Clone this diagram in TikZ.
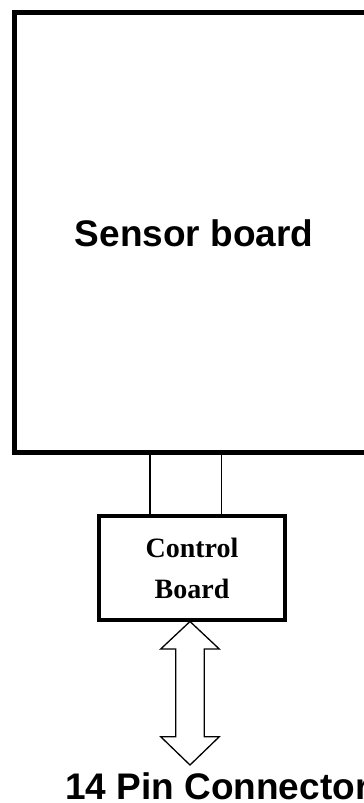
\documentclass[tikz,border=0pt]{standalone}
\usepackage{fontspec}
\setmainfont{Liberation Serif}
\newfontfamily\arialfont{Liberation Sans}
\begin{document}
\begin{tikzpicture}[x=1pt,y=-1pt,
  board/.style={draw=black,rectangle,inner sep=0pt},
  wire/.style={draw=black,line width=1.2pt},
  bigarrow/.style={draw=black,line width=1.3pt,line join=miter},
  sanslabel/.style={font=\arialfont\bfseries\fontsize{37}{44}\selectfont,inner sep=0pt},
  seriflabel/.style={font=\bfseries\fontsize{28}{41}\selectfont,align=center,inner sep=0pt}]
\useasboundingbox (0,0) rectangle (364,803);
\fill[white] (0,0) rectangle (364,803);
% sensor board (right edge lies outside the page)
\node[board,line width=5pt,minimum width=357.5pt,minimum height=440pt] (sensor) at (193.25,232.5) {};
\node[sanslabel,anchor=base] (sensortext) at (194,246.7) {Sensor board};
% control board
\node[board,line width=4.5pt,minimum width=186pt,minimum height=104pt,seriflabel] (control) at (192,568) {Control\\Board};
% wires
\coordinate (w1) at (150,452.5);
\coordinate (w2) at (221.7,452.5);
\draw[wire] (w1) -- (w1 |- control.north);
\draw[wire] (w2) -- (w2 |- control.north);
% double arrow
\coordinate (tipT) at (190,621.5);
\coordinate (tipB) at (190,765);
\draw[bigarrow] (tipT) -- (219.3,649) -- (204.2,649) -- (204.2,736.7) -- (219.3,736.7) -- (tipB)
  -- (160.7,736.7) -- (175.8,736.7) -- (175.8,649) -- (160.7,649) -- cycle;
\node[sanslabel,anchor=base west] (conn) at (65,799) {14 Pin Connector};
\end{tikzpicture}
\end{document}
